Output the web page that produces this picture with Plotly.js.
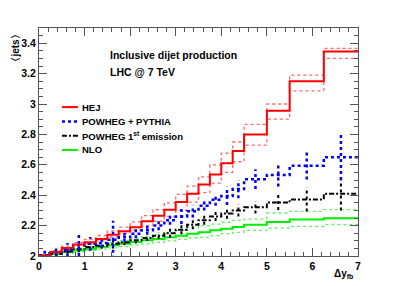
<!DOCTYPE html>
<html><head><meta charset="utf-8">
<script src="https://cdn.plot.ly/plotly-3.0.1.min.js"></script>
<style>html,body{margin:0;padding:0;background:#fff}#c{width:399px;height:286px}</style>
</head><body><div id="c"></div>
<script>
// bin edges in Δy_fb
const edges = [0,0.25,0.5,0.75,1,1.25,1.5,1.75,2,2.25,2.5,2.75,3,3.25,3.5,3.75,4,4.25,4.5,5,5.5,6.25,7];
// HEJ
const hej   = [2.002,2.026,2.053,2.075,2.09,2.112,2.14,2.163,2.189,2.228,2.265,2.305,2.355,2.41,2.47,2.537,2.61,2.69,2.80,2.955,3.15,3.345];
const hejUp = [2.008,2.035,2.065,2.09,2.11,2.135,2.165,2.19,2.225,2.265,2.305,2.35,2.405,2.46,2.52,2.60,2.676,2.75,2.866,3.0,3.19,3.366];
const hejDn = [1.998,2.02,2.045,2.065,2.08,2.10,2.125,2.148,2.17,2.20,2.23,2.26,2.30,2.355,2.417,2.48,2.55,2.62,2.73,2.90,3.087,3.30];
// POWHEG + PYTHIA
const pw    = [2.005,2.02,2.04,2.07,2.08,2.085,2.107,2.123,2.147,2.17,2.20,2.235,2.26,2.294,2.33,2.37,2.395,2.44,2.505,2.533,2.593,2.65];
const pwErr = [0.03,0.03,0.045,0.07,0.045,0.03,0.125,0.03,0.03,0.03,0.03,0.03,0.05,0.04,0.03,0.04,0.06,0.06,0.065,0.075,0.09,0.15];
// POWHEG 1st emission
const pe    = [2.003,2.015,2.03,2.045,2.06,2.068,2.08,2.09,2.103,2.118,2.134,2.15,2.173,2.206,2.235,2.26,2.28,2.30,2.32,2.352,2.372,2.41];
const peErr = [0.005,0.01,0.015,0.02,0.02,0.02,0.03,0.02,0.02,0.02,0.02,0.03,0.03,0.03,0.03,0.03,0.035,0.04,0.04,0.05,0.08,0.11];
// NLO
const nlo   = [2.0,2.013,2.026,2.037,2.046,2.06,2.07,2.08,2.092,2.103,2.112,2.123,2.134,2.147,2.156,2.169,2.18,2.19,2.206,2.224,2.24,2.248];
const nloUp = [2.003,2.02,2.035,2.05,2.062,2.077,2.09,2.103,2.117,2.13,2.142,2.155,2.168,2.183,2.20,2.21,2.222,2.235,2.243,2.283,2.294,2.305];
const nloDn = [1.998,2.008,2.018,2.027,2.035,2.045,2.053,2.062,2.072,2.08,2.09,2.10,2.11,2.12,2.123,2.134,2.147,2.156,2.169,2.184,2.195,2.206];

const xTicks = [0,1,2,3,4,5,6,7];
const yTicks = [2,2.2,2.4,2.6,2.8,3,3.2,3.4];
const yTickText = ['2','2.2','2.4','2.6','2.8','3','3.2','3.4'];
const legendNames = ['HEJ','POWHEG + PYTHIA','POWHEG 1<sup>st</sup> emission','NLO'];

function step(vals, line, name){
  return {x: edges.slice(), y: vals.concat([vals[vals.length-1]]), mode:'lines',
    line: Object.assign({shape:'hv'}, line), hoverinfo:'skip', showlegend:false, name:name||'s'};
}
function errs(vals, e, line){
  const x=[], y=[];
  for(let i=0;i<vals.length;i++){
    const c=(edges[i]+edges[i+1])/2;
    x.push(c,c,null); y.push(vals[i]-e[i], vals[i]+e[i], null);
  }
  return {x:x,y:y,mode:'lines',line:line,hoverinfo:'skip',showlegend:false,connectgaps:false,name:'e'};
}
const F = {family:'Liberation Sans, Arial, sans-serif', weight:700, color:'#000'};
const DD = '5px,2px,2px,2px';
const traces = [
  step(nloUp,{color:'rgba(0,230,0,0.6)',width:1.3,dash:'dot'}),
  step(nloDn,{color:'rgba(0,230,0,0.6)',width:1.3,dash:'dot'}),
  step(hejUp,{color:'rgba(255,0,0,0.6)',width:1.3,dash:'dot'}),
  step(hejDn,{color:'rgba(255,0,0,0.6)',width:1.3,dash:'dot'}),
  step(nlo,{color:'#00ee00',width:2}),
  errs(pe,peErr,{color:'#000',width:2,dash:'dot'}),
  step(pe,{color:'#000',width:2,dash:DD}),
  errs(pw,pwErr,{color:'#0000ff',width:2.5,dash:'dot'}),
  step(pw,{color:'#0000ff',width:2.5,dash:'dot'}),
  step(hej,{color:'#ff0000',width:2}),
];
// legend drawn by annotations + sample lines
const legStyles = [
  {color:'#ff0000',width:2,dash:'solid'},
  {color:'#0000ff',width:2.5,dash:'dot'},
  {color:'#000',width:2,dash:DD},
  {color:'#00ee00',width:2,dash:'solid'}];
const legY = [0.653,0.590,0.527,0.465];
const shapes=[], anns=[];
legStyles.forEach((s,i)=>{
  shapes.push({type:'line',xref:'paper',yref:'paper',x0:0.072,x1:0.122,y0:legY[i],y1:legY[i],line:s});
  anns.push({xref:'paper',yref:'paper',x:0.128,y:legY[i],xanchor:'left',yanchor:'middle',showarrow:false,
    text:legendNames[i],font:Object.assign({size:9.5},F)});
});
anns.push({xref:'paper',yref:'paper',x:0.215,y:0.882,xanchor:'left',yanchor:'middle',showarrow:false,
  text:'Inclusive dijet production',font:Object.assign({size:10.5},F)});
anns.push({xref:'paper',yref:'paper',x:0.215,y:0.807,xanchor:'left',yanchor:'middle',showarrow:false,
  text:'LHC @ 7 TeV',font:Object.assign({size:10.5},F)});
anns.push({xref:'paper',yref:'paper',x:-0.075,y:0.91,xanchor:'center',yanchor:'middle',showarrow:false,
  textangle:-90,text:'〈jets〉',font:Object.assign({size:10},F)});
anns.push({xref:'paper',yref:'paper',x:0.955,y:-0.045,xanchor:'center',yanchor:'top',showarrow:false,
  text:'Δy<sub>fb</sub>',font:Object.assign({size:10},F)});

const ax = {showline:true,linecolor:'#555',linewidth:1,mirror:'allticks',ticks:'inside',ticklen:8,tickcolor:'#555',
  tickwidth:1,showgrid:false,zeroline:false,tickfont:Object.assign({size:10.5},F),fixedrange:true};
const layout = {
  width:399,height:286,margin:{l:39,r:41,t:28,b:30},paper_bgcolor:'#fff',plot_bgcolor:'#fff',
  showlegend:false,
  xaxis:Object.assign({},ax,{range:[0,7],tickvals:xTicks,ticktext:xTicks.map(String),ticklabelstandoff:0,
    minor:{dtick:0.2,tick0:0,ticks:'inside',ticklen:4,tickcolor:'#555'}}),
  yaxis:Object.assign({},ax,{range:[2,3.5],tickvals:yTicks,ticktext:yTickText,
    minor:{dtick:0.05,tick0:2,ticks:'inside',ticklen:4,tickcolor:'#555'}}),
  shapes:shapes,annotations:anns
};
Plotly.newPlot('c',traces,layout,{staticPlot:true,displayModeBar:false});
</script></body></html>
